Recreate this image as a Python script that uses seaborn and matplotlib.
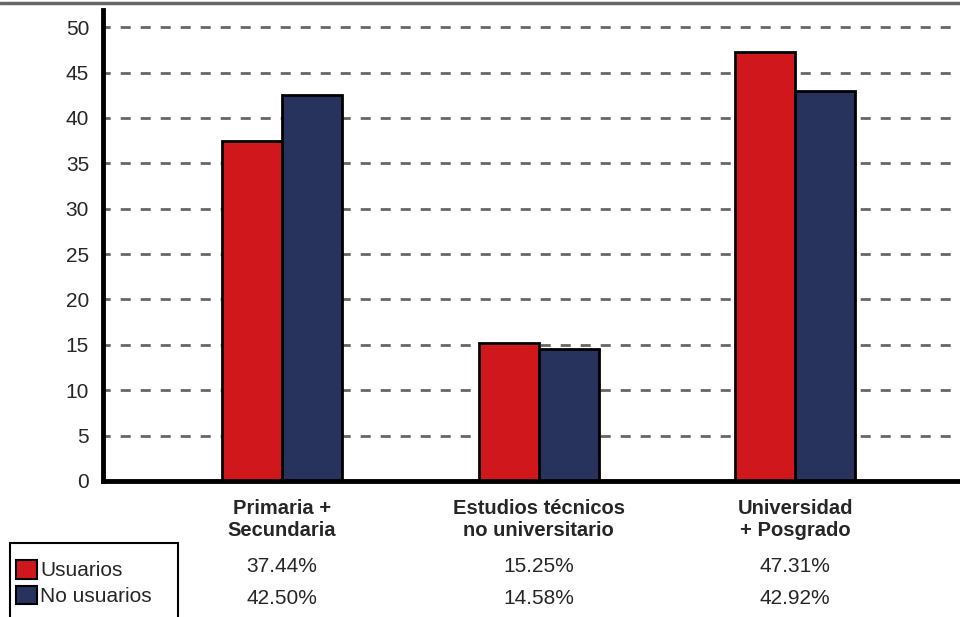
import pandas as pd
import matplotlib.pyplot as plt
import matplotlib.lines as mlines
import seaborn as sns

# data
categorias = ["Primaria +\nSecundaria", "Estudios técnicos\nno universitario", "Universidad\n+ Posgrado"]
usuarios = [37.44, 15.25, 47.31]
no_usuarios = [42.50, 14.58, 42.92]
grupos = ["Usuarios", "No usuarios"]
colores = ["#cf171c", "#27335c"]

df = pd.DataFrame({
    "cat": categorias * 2,
    "grupo": [grupos[0]] * 3 + [grupos[1]] * 3,
    "valor": usuarios + no_usuarios,
})

sns.set_style("white")
plt.rcParams["font.family"] = ["Liberation Sans", "DejaVu Sans"]

fig = plt.figure(figsize=(9.6, 6.17), dpi=100)
ax = fig.add_axes([103 / 960, 1 - 481 / 617, 1 - 103 / 960, (481 - 10) / 617])

sns.barplot(data=df, x="cat", y="valor", hue="grupo", palette=colores, saturation=1,
            width=0.468, edgecolor="black", linewidth=2, ax=ax, legend=False)

ax.set_ylim(0, 51.9)
ax.set_xlim(-0.698, 2.643)
ax.set_yticks(range(0, 51, 5))
ax.set_xticks([])
ax.set_xlabel("")
ax.set_ylabel("")
ax.tick_params(axis="y", length=0, labelsize=15, pad=10)
ax.yaxis.grid(True, color="#666666", linestyle=(1, (3.6, 3.6)), linewidth=2)
ax.set_axisbelow(True)
for s in ["top", "right"]:
    ax.spines[s].set_visible(False)
for s in ["left", "bottom"]:
    ax.spines[s].set_color("black")
    ax.spines[s].set_linewidth(3.5)

# data table under the axis
trans = ax.get_xaxis_transform()
for i, cat in enumerate(categorias):
    ax.text(i, 1 - (519 - 10) / 471, cat, transform=trans, ha="center", va="center",
            fontsize=14.5, fontweight="bold", linespacing=1.2, clip_on=False)
    ax.text(i, 1 - (567 - 10) / 471, f"{usuarios[i]:.2f}%", transform=trans,
            ha="center", va="center", fontsize=15, clip_on=False)
    ax.text(i, 1 - (599 - 10) / 471, f"{no_usuarios[i]:.2f}%", transform=trans,
            ha="center", va="center", fontsize=15, clip_on=False)

# legend box (runs off the bottom edge)
fig.add_artist(plt.Rectangle((10 / 960, -0.02), 168 / 960, (617 - 543) / 617 + 0.02,
                             transform=fig.transFigure, facecolor="white",
                             edgecolor="black", linewidth=1.5))
handles = [plt.Rectangle((0, 0), 1, 1, facecolor=c, edgecolor="black", linewidth=1.5)
           for c in colores]
leg = fig.legend(handles, grupos, loc="upper left",
                 bbox_to_anchor=(16 / 960, 1 - 560 / 617), bbox_transform=fig.transFigure,
                 frameon=False, fontsize=15,
                 handlelength=1.0, handleheight=1.0, handletextpad=0.15,
                 labelspacing=0.25, borderpad=0, borderaxespad=0)

# gray rule at the top
fig.add_artist(mlines.Line2D([0, 1], [1 - 3 / 617, 1 - 3 / 617], color="#666666",
                             linewidth=2.5, transform=fig.transFigure))

fig.savefig("out.png", dpi=100)
